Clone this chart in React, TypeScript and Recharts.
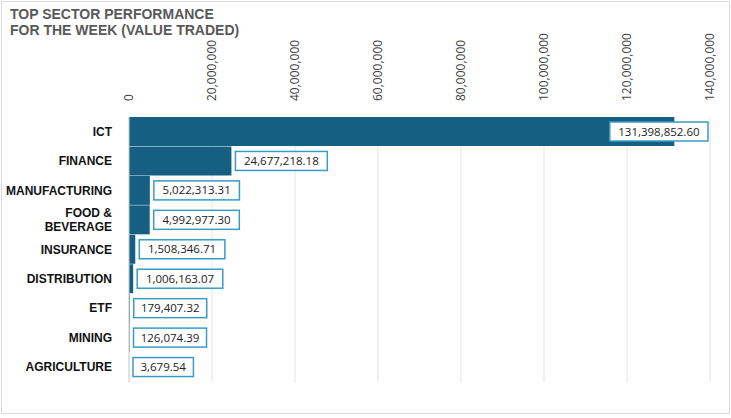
import { Bar, BarChart, CartesianGrid, LabelList, XAxis, YAxis } from 'recharts';

const sectors = ['ICT', 'FINANCE', 'MANUFACTURING', 'FOOD & BEVERAGE', 'INSURANCE', 'DISTRIBUTION', 'ETF', 'MINING', 'AGRICULTURE'];
const valuesTraded = [131398852.6, 24677218.18, 5022313.31, 4992977.3, 1508346.71, 1006163.07, 179407.32, 126074.39, 3679.54];
const xTicks = [0, 20000000, 40000000, 60000000, 80000000, 100000000, 120000000, 140000000];

const data = sectors.map((sector, i) => ({ sector, value: valuesTraded[i] }));

const fmt = (v: number) =>
  v.toLocaleString('en-US', { minimumFractionDigits: 2, maximumFractionDigits: 2 });

function TopTick({ x, y, payload }: any) {
  return (
    <text
      x={x + 4}
      y={y - 8}
      transform={`rotate(-90, ${x + 4}, ${y - 8})`}
      textAnchor="start"
      fontSize={12}
      fontFamily="Open Sans, sans-serif"
      fill="#404040"
    >
      {payload.value === 0 ? '0' : payload.value.toLocaleString('en-US')}
    </text>
  );
}

function SectorTick({ x, y, payload }: any) {
  const lines = payload.value === 'FOOD & BEVERAGE' ? ['FOOD &', 'BEVERAGE'] : [payload.value];
  return (
    <text x={x - 9} y={y} textAnchor="end" fontSize={12} fontWeight="bold" fontFamily="Arial, Liberation Sans, sans-serif" fill="#111">
      {lines.map((l, i) => (
        <tspan key={l} x={x - 9} dy={i === 0 ? (lines.length > 1 ? -3 : 4) : 14}>
          {l}
        </tspan>
      ))}
    </text>
  );
}

function ValueBox({ x, y, width, height, value }: any) {
  const text = fmt(value);
  const w = text.length * 6.3 + 10;
  const h = 19;
  const bx = Math.min(x + width + 4, 708 - w);
  const by = y + height / 2 - h / 2;
  return (
    <g>
      <rect x={bx} y={by} width={w} height={h} fill="#fff" stroke="#3a9cc4" strokeWidth={1.5} />
      <text x={bx + w / 2} y={by + h / 2 + 4} textAnchor="middle" fontSize={11.5} fontFamily="Open Sans, sans-serif" fill="#222">
        {text}
      </text>
    </g>
  );
}

export default function App() {
  return (
    <div style={{ position: 'absolute', left: 0, top: 0, width: 731, height: 418, background: '#fff', fontFamily: 'Arial, Liberation Sans, sans-serif' }}>
      <div style={{ position: 'absolute', left: 1, top: 1, width: 727, height: 411, border: '1px solid #d9d9d9' }} />
      <div style={{ position: 'absolute', left: 10, top: 6, fontSize: 14, fontWeight: 'bold', color: '#595959', lineHeight: '16px' }}>
        TOP SECTOR PERFORMANCE
        <br />
        FOR THE WEEK (VALUE TRADED)
      </div>
      <BarChart
        width={731}
        height={418}
        data={data}
        layout="vertical"
        margin={{ top: 57, right: 21, left: 0, bottom: 36 }}
        barCategoryGap={0}
      >
        <CartesianGrid horizontal={false} stroke="#e3e3e3" />
        <XAxis
          type="number"
          orientation="top"
          domain={[0, 140000000]}
          ticks={xTicks}
          height={60}
          axisLine={false}
          tickLine={false}
          tick={<TopTick />}
          interval={0}
        />
        <YAxis type="category" dataKey="sector" width={129} axisLine={{ stroke: '#d0d0d0' }} tickLine={false} tick={<SectorTick />} interval={0} />
        <Bar dataKey="value" fill="#155f82" isAnimationActive={false}>
          <LabelList dataKey="value" content={<ValueBox />} />
        </Bar>
      </BarChart>
    </div>
  );
}
